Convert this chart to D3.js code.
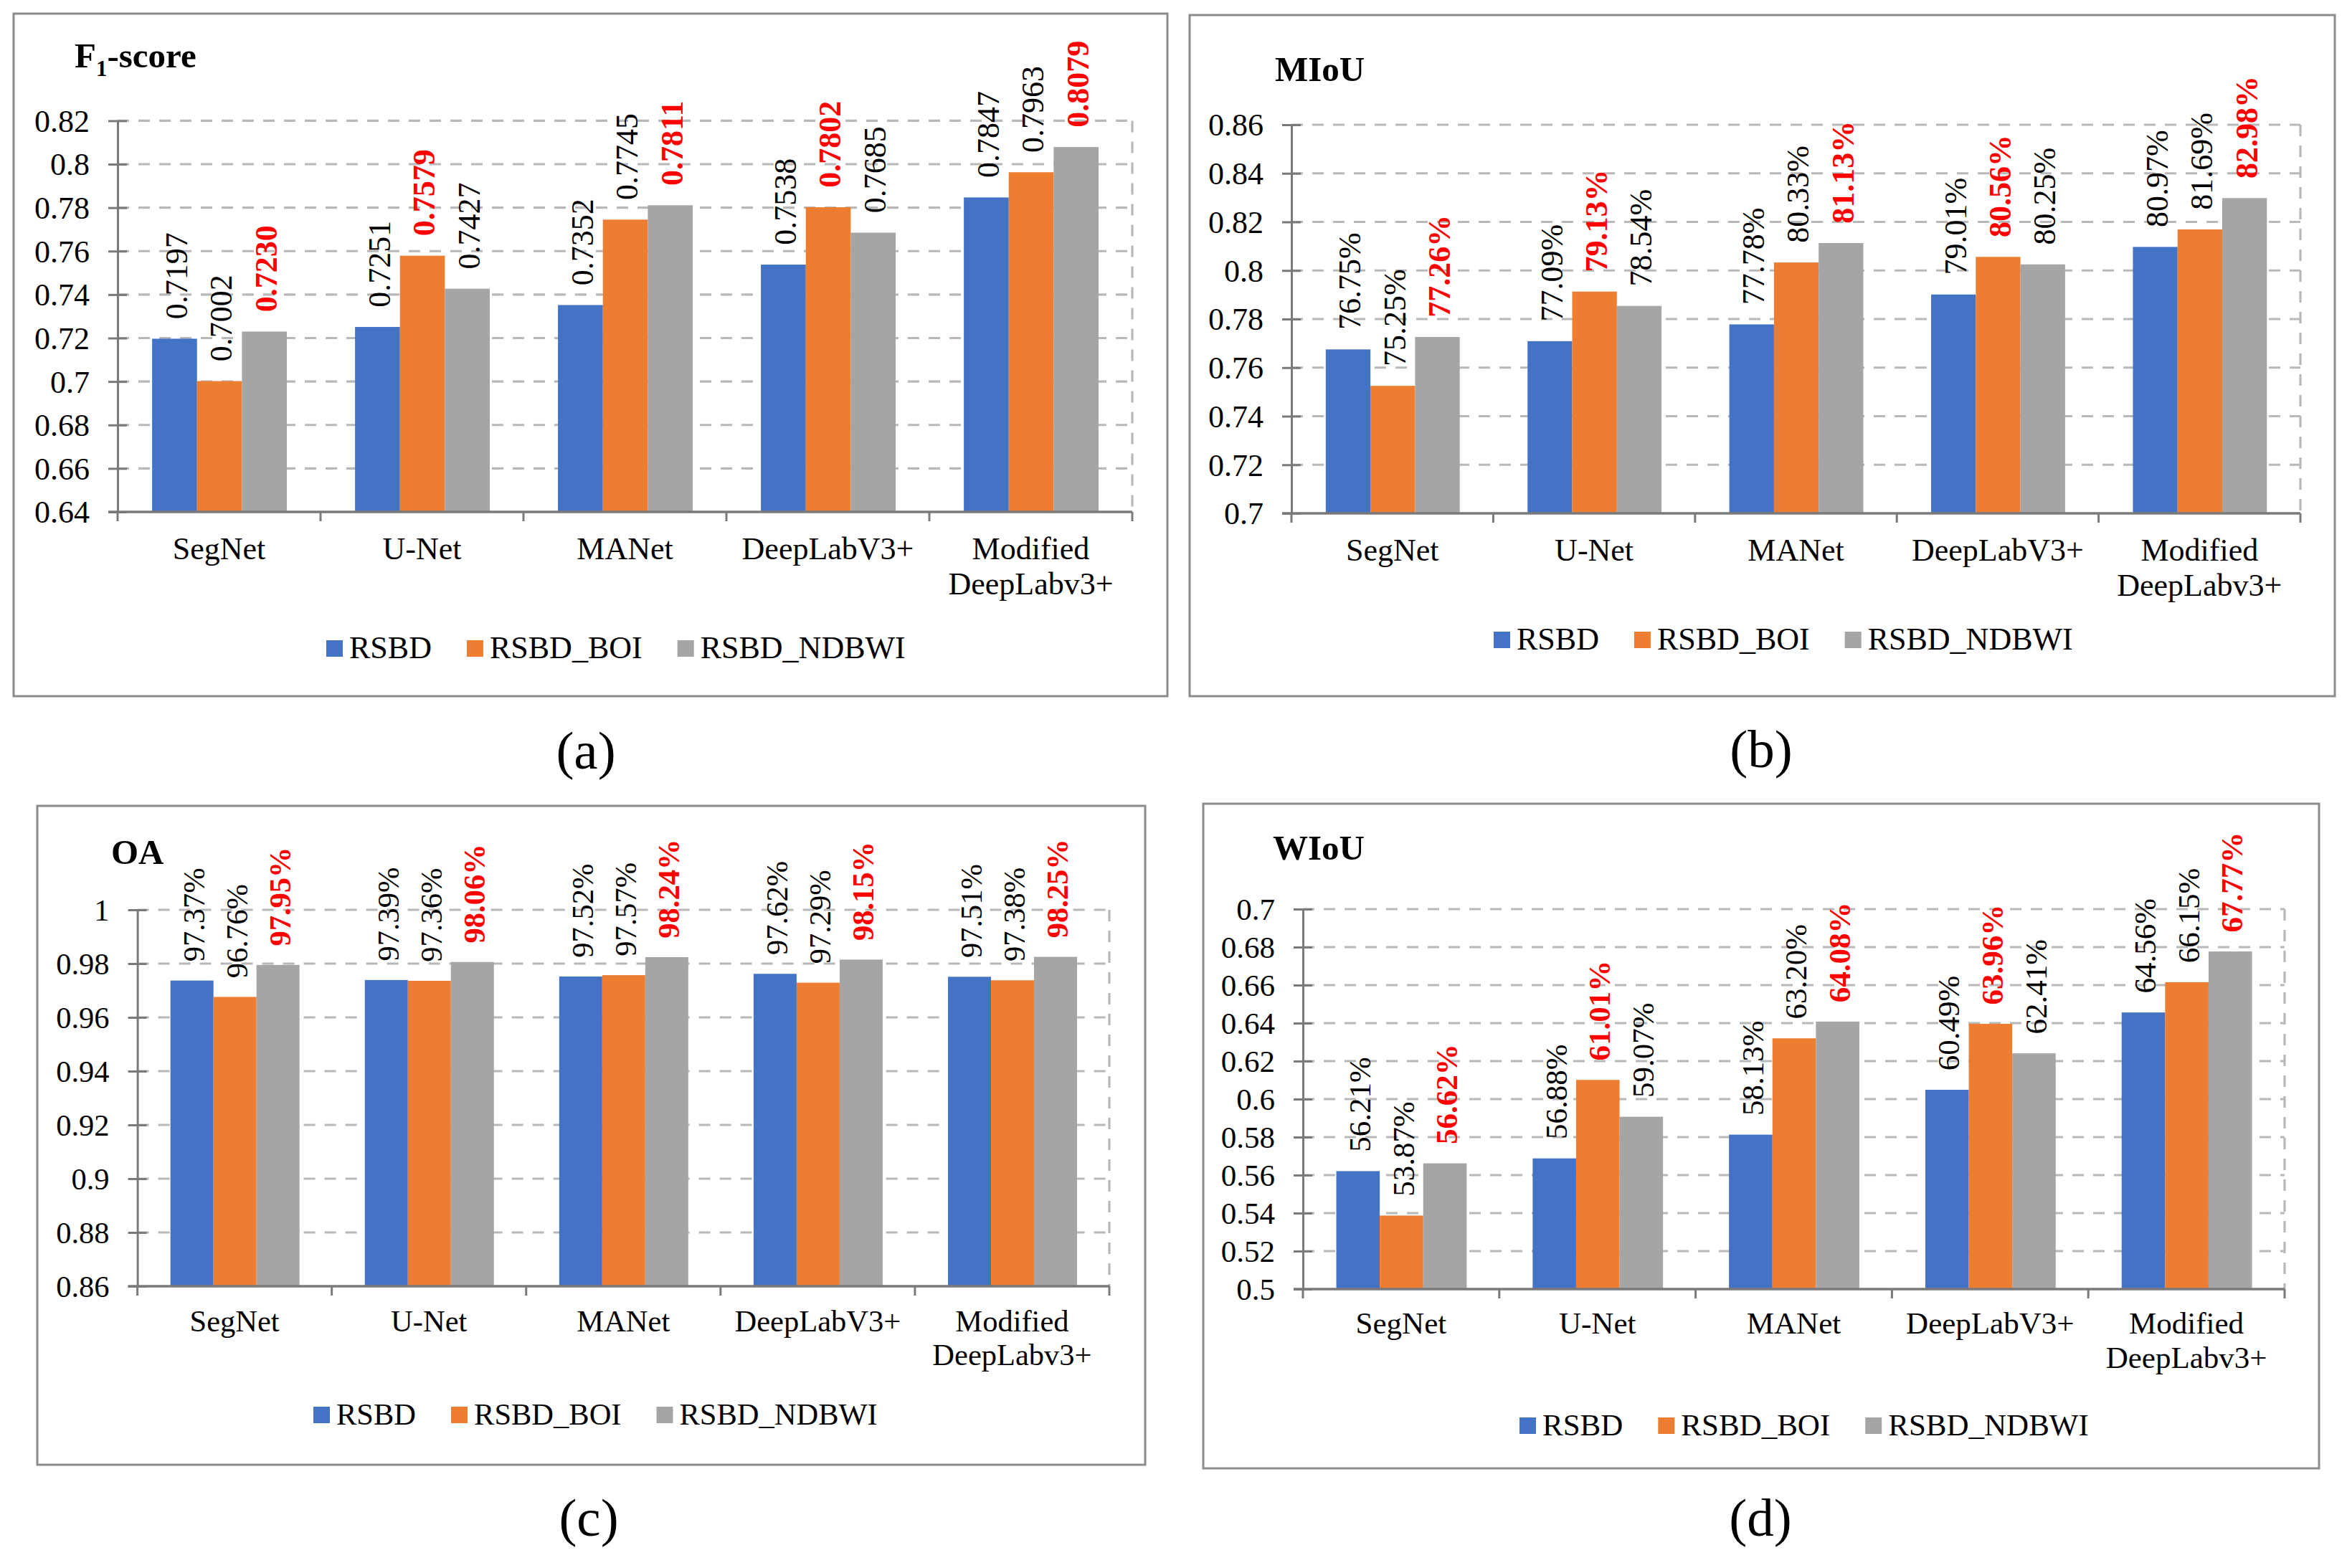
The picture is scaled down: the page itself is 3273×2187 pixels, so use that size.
<!DOCTYPE html>
<html>
<head>
<meta charset="utf-8">
<script src="https://cdn.jsdelivr.net/npm/d3@7"></script>
<style>
  body { margin: 0; background: #fff; }
  text { font-family: "Liberation Serif", "Times New Roman", serif; }
</style>
</head>
<body>
<svg id="fig" width="3273" height="2187"></svg>
<script>
// ---- data ----
const categories = ["SegNet", "U-Net", "MANet", "DeepLabV3+", "Modified\nDeepLabv3+"];
const seriesNames = ["RSBD", "RSBD_BOI", "RSBD_NDBWI"];
const seriesColors = ["#4472C4", "#ED7D31", "#A5A5A5"];

// one row per model, columns follow seriesNames
const f1Score = [
  [0.7197, 0.7002, 0.7230],
  [0.7251, 0.7579, 0.7427],
  [0.7352, 0.7745, 0.7811],
  [0.7538, 0.7802, 0.7685],
  [0.7847, 0.7963, 0.8079]
];
const mIoU = [   // percent
  [76.75, 75.25, 77.26],
  [77.09, 79.13, 78.54],
  [77.78, 80.33, 81.13],
  [79.01, 80.56, 80.25],
  [80.97, 81.69, 82.98]
];
const oa = [     // percent
  [97.37, 96.76, 97.95],
  [97.39, 97.36, 98.06],
  [97.52, 97.57, 98.24],
  [97.62, 97.29, 98.15],
  [97.51, 97.38, 98.25]
];
const wIoU = [   // percent
  [56.21, 53.87, 56.62],
  [56.88, 61.01, 59.07],
  [58.13, 63.20, 64.08],
  [60.49, 63.96, 62.41],
  [64.56, 66.15, 67.77]
];

const f1Ticks = [0.64, 0.66, 0.68, 0.7, 0.72, 0.74, 0.76, 0.78, 0.8, 0.82];
const mIoUTicks = [0.7, 0.72, 0.74, 0.76, 0.78, 0.8, 0.82, 0.84, 0.86];
const oaTicks = [0.86, 0.88, 0.9, 0.92, 0.94, 0.96, 0.98, 1];
const wIoUTicks = [0.5, 0.52, 0.54, 0.56, 0.58, 0.6, 0.62, 0.64, 0.66, 0.68, 0.7];

// ---- layout of the four panels ----
const panels = [
  { tag: "(a)", title: "F1-score", rows: f1Score, pct: false, ticks: f1Ticks,
    frame: [19, 19, 1628, 971], plot: [164, 168.4, 1579, 714], fs: 44,
    titleX: 104, titleY: 94, catDy: 66, legendX: 455, legendY: 918, tagX: 817, tagY: 1072 },
  { tag: "(b)", title: "MIoU", rows: mIoU, pct: true, ticks: mIoUTicks,
    frame: [1659, 21, 3256, 971], plot: [1801, 174, 3208, 716], fs: 44,
    titleX: 1778, titleY: 113, catDy: 66, legendX: 2083, legendY: 906, tagX: 2456, tagY: 1070 },
  { tag: "(c)", title: "OA", rows: oa, pct: true, ticks: oaTicks,
    frame: [52, 1124, 1597, 2043], plot: [191.6, 1269, 1547, 1794], fs: 42.5,
    titleX: 155, titleY: 1205, catDy: 63, legendX: 437, legendY: 1987, tagX: 821, tagY: 2142 },
  { tag: "(d)", title: "WIoU", rows: wIoU, pct: true, ticks: wIoUTicks,
    frame: [1678, 1121, 3234, 2048], plot: [1817, 1268, 3186, 1798], fs: 43,
    titleX: 1775, titleY: 1199, catDy: 62, legendX: 2119, legendY: 2002, tagX: 2455, tagY: 2142 }
];

const FONT = '"Liberation Serif", "Times New Roman", serif';
const svg = d3.select("#fig");
svg.append("rect").attr("width", 3273).attr("height", 2187).attr("fill", "#fff");

const axisColor = "#7a7a7a";
const gridColor = "#b8b8b8";

function drawPanel(p) {
  const g = svg.append("g").attr("font-family", FONT);
  const [fx0, fy0, fx1, fy1] = p.frame;
  const [px0, py0, px1, py1] = p.plot;

  g.append("rect")
    .attr("x", fx0).attr("y", fy0)
    .attr("width", fx1 - fx0).attr("height", fy1 - fy0)
    .attr("fill", "none").attr("stroke", "#8c8c8c").attr("stroke-width", 3);

  const x0 = d3.scaleBand().domain(categories).range([px0, px1]);
  const bw = x0.bandwidth();
  const x1 = d3.scaleBand().domain(seriesNames).range([0.17 * bw, 0.834 * bw]);
  const y = d3.scaleLinear()
    .domain([p.ticks[0], p.ticks[p.ticks.length - 1]])
    .range([py1, py0]);

  // dashed grid + dashed right border
  g.selectAll(".grid")
    .data(p.ticks.slice(1))
    .join("line")
    .attr("x1", px0).attr("x2", px1)
    .attr("y1", d => y(d)).attr("y2", d => y(d))
    .attr("stroke", gridColor).attr("stroke-width", 3.2)
    .attr("stroke-dasharray", "16,13");
  g.append("line")
    .attr("x1", px1).attr("x2", px1).attr("y1", py0).attr("y2", py1)
    .attr("stroke", gridColor).attr("stroke-width", 3.2)
    .attr("stroke-dasharray", "16,13");

  // bars
  const groups = g.selectAll(".grp")
    .data(p.rows)
    .join("g")
    .attr("transform", (d, i) => `translate(${x0(categories[i])},0)`);

  const cells = d => d.map((v, j) => ({ v: p.pct ? v / 100 : v, raw: v, j, best: v === d3.max(d) }));

  groups.selectAll("rect")
    .data(cells)
    .join("rect")
    .attr("x", d => x1(seriesNames[d.j]))
    .attr("width", x1.bandwidth())
    .attr("y", d => y(d.v))
    .attr("height", d => py1 - y(d.v))
    .attr("fill", d => seriesColors[d.j]);

  // rotated value labels
  const gap = 0.62 * p.fs;
  groups.selectAll("text")
    .data(cells)
    .join("text")
    .attr("transform", d => `translate(${x1(seriesNames[d.j]) + x1.bandwidth() / 2 + 2},${y(d.v) - gap}) rotate(-90)`)
    .attr("dy", "0.35em")
    .attr("font-size", p.fs)
    .attr("font-weight", d => d.best ? "bold" : "normal")
    .attr("fill", d => d.best ? "#ff0000" : "#000")
    .text(d => p.pct ? d.raw.toFixed(2) + "%" : d.raw.toFixed(4));

  // y axis, tick marks crossing the axis line
  const yAxis = g.append("g")
    .attr("transform", `translate(${px0},0)`)
    .call(d3.axisLeft(y).tickValues(p.ticks).tickSize(13).tickSizeOuter(0)
      .tickFormat(d => String(d)).tickPadding(26));
  yAxis.attr("font-family", FONT);
  yAxis.select(".domain").attr("stroke", axisColor).attr("stroke-width", 3);
  yAxis.selectAll(".tick line")
    .attr("x1", -13).attr("x2", 13)
    .attr("stroke", axisColor).attr("stroke-width", 3);
  yAxis.selectAll(".tick text")
    .attr("font-size", p.fs).attr("fill", "#000")
    .attr("dy", "0.34em");

  // x axis with ticks on category boundaries
  g.append("line")
    .attr("x1", px0 - 13).attr("x2", px1).attr("y1", py1).attr("y2", py1)
    .attr("stroke", axisColor).attr("stroke-width", 3.5);
  const bounds = categories.map(c => x0(c)).concat([px1]);
  g.selectAll(".xt")
    .data(bounds)
    .join("line")
    .attr("x1", d => d).attr("x2", d => d)
    .attr("y1", py1).attr("y2", py1 + 13)
    .attr("stroke", axisColor).attr("stroke-width", 3);

  const cat = g.selectAll(".cat")
    .data(categories)
    .join("text")
    .attr("text-anchor", "middle")
    .attr("font-size", p.fs)
    .attr("fill", "#000");
  cat.selectAll("tspan")
    .data(d => d.split("\n").map(s => ({ s, c: d })))
    .join("tspan")
    .attr("x", d => x0(d.c) + bw / 2)
    .attr("y", (d, i) => py1 + p.catDy + i * 49 * p.fs / 44)
    .text(d => d.s);

  // legend
  let lx = p.legendX;
  seriesNames.forEach((name, j) => {
    g.append("rect")
      .attr("x", lx).attr("y", p.legendY - 25)
      .attr("width", 23).attr("height", 23)
      .attr("fill", seriesColors[j]);
    const t = g.append("text")
      .attr("x", lx + 32).attr("y", p.legendY)
      .attr("font-size", p.fs).attr("fill", "#000")
      .text(name);
    lx += 32 + t.node().getComputedTextLength() + 49;
  });

  // title
  const title = g.append("text")
    .attr("x", p.titleX).attr("y", p.titleY)
    .attr("font-size", 49).attr("font-weight", "bold").attr("fill", "#000");
  if (p.title === "F1-score") {
    title.append("tspan").text("F");
    title.append("tspan").attr("font-size", 31).attr("dy", 12).text("1");
    title.append("tspan").attr("dy", -12).text("-score");
  } else {
    title.text(p.title);
  }

  // panel tag
  g.append("text")
    .attr("x", p.tagX).attr("y", p.tagY)
    .attr("text-anchor", "middle")
    .attr("font-size", 75).attr("fill", "#000")
    .text(p.tag);
}

panels.forEach(drawPanel);
</script>
</body>
</html>
